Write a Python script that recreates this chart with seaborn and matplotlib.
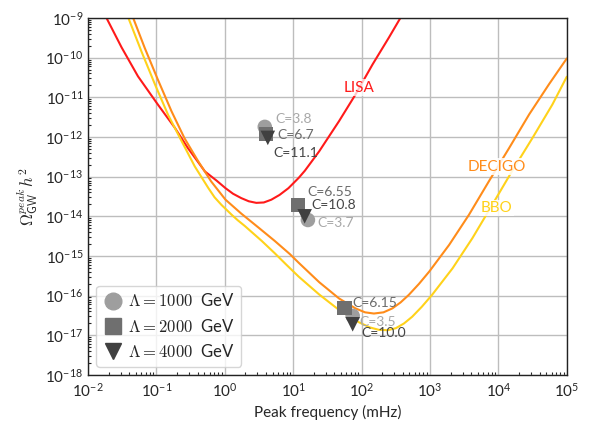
import numpy as np
import pandas as pd
import matplotlib
matplotlib.use("Agg")
import matplotlib.pyplot as plt
import seaborn as sns

# ---- data (log10 of frequency in mHz, log10 of Omega h^2) ----
lisa_logf = [-1.73, -1.51, -1.27, -0.98, -0.73, -0.54, -0.29, -0.12, 0.01, 0.12, 0.24, 0.35, 0.46,
             0.57, 0.68, 0.80, 0.93, 1.08, 1.17, 1.38, 1.67, 1.91, 2.16, 2.40, 2.57]
lisa_logo = [-9.0, -9.74, -10.47, -11.18, -11.77, -12.28, -12.87, -13.10, -13.29, -13.43, -13.54, -13.62, -13.66,
             -13.65, -13.58, -13.46, -13.29, -13.03, -12.85, -12.36, -11.60, -10.93, -10.17, -9.49, -8.99]

decigo_logf = [-1.34, -1.17, -0.98, -0.78, -0.59, -0.39, -0.20, 0.01, 0.24, 0.49, 0.73, 0.95,
               1.08, 1.38, 1.67, 1.91, 2.05, 2.18, 2.32, 2.45, 2.57, 2.69, 2.84, 2.99, 3.28, 3.57, 3.86,
               4.16, 4.45, 4.74, 5.0]
decigo_logo = [-9.0, -9.76, -10.55, -11.35, -12.03, -12.61, -13.12, -13.58, -13.93, -14.28, -14.62, -14.95,
               -15.17, -15.66, -16.07, -16.32, -16.42, -16.45, -16.42, -16.32, -16.17, -15.98, -15.70, -15.39,
               -14.72, -13.96, -13.12, -12.27, -11.43, -10.67, -10.02]

bbo_logf = [-1.41, -1.22, -1.02, -0.83, -0.63, -0.44, -0.24, -0.15, -0.05, 0.10, 0.19, 0.29, 0.54, 0.73,
            0.90, 1.08, 1.38, 1.67, 1.96, 2.12, 2.25, 2.38, 2.50, 2.62, 2.74, 2.88, 3.03, 3.33, 3.62, 3.91,
            4.20, 4.50, 4.79, 5.0]
bbo_logo = [-9.0, -9.84, -10.68, -11.44, -12.11, -12.74, -13.29, -13.52, -13.71, -13.96, -14.10, -14.24,
            -14.62, -14.93, -15.22, -15.52, -15.97, -16.36, -16.67, -16.80, -16.86, -16.87, -16.82, -16.70, -16.53,
            -16.28, -15.98, -15.31, -14.55, -13.71, -12.86, -12.02, -11.18, -10.48]

lambda_labels = ["1000", "2000", "4000"]
# peak frequency (mHz) and Omega h^2 for each Lambda, three benchmark points each
pts_f = {
    "1000": [3.84, 16.4, 74.0],
    "2000": [4.0, 11.8, 56.5],
    "4000": [4.25, 14.7, 74.0],
}
pts_o = {
    "1000": [1.8e-12, 8.1e-15, 3.1e-17],
    "2000": [1.2e-12, 1.94e-14, 4.9e-17],
    "4000": [9.5e-13, 1.0e-14, 1.9e-17],
}
pts_c = {
    "1000": ["C=3.8", "C=3.7", "C=3.5"],
    "2000": ["C=6.7", "C=6.55", "C=6.15"],
    "4000": ["C=11.1", "C=10.8", "C=10.0"],
}

# ---- styling ----
sns.set_style("white")
plt.rcParams["font.family"] = ["Lato", "DejaVu Sans"]
plt.rcParams["mathtext.fontset"] = "cm"

fig = plt.figure(figsize=(5.91, 4.26), dpi=100)
ax = fig.add_axes([0.149, 0.1197, 0.81, 0.838])

curves = pd.concat([
    pd.DataFrame({"f": 10 ** np.array(lisa_logf), "o": 10 ** np.array(lisa_logo), "det": "LISA"}),
    pd.DataFrame({"f": 10 ** np.array(decigo_logf), "o": 10 ** np.array(decigo_logo), "det": "DECIGO"}),
    pd.DataFrame({"f": 10 ** np.array(bbo_logf), "o": 10 ** np.array(bbo_logo), "det": "BBO"}),
], ignore_index=True)
det_colors = {"LISA": "#ff1a1a", "DECIGO": "#ff8c1a", "BBO": "#ffd21a"}

ax.set_xscale("log")
ax.set_yscale("log")
sns.lineplot(data=curves, x="f", y="o", hue="det", palette=det_colors, sort=False,
             estimator=None, units="det", lw=1.5, legend=False, ax=ax)

mk = {"1000": "o", "2000": "s", "4000": "v"}
mc = {"1000": "#9e9e9e", "2000": "#6f6f6f", "4000": "#404040"}
tc = {"1000": "#a8a8a8", "2000": "#6a6a6a", "4000": "#454545"}
offsets = {
    "1000": [(11, 8), (9, -3), (7, -6)],
    "2000": [(11, -1), (9, 13), (8, 5)],
    "4000": [(6, -15), (7, 11), (9, -9)],
}
handles = []
for lab in lambda_labels:
    df = pd.DataFrame({"f": pts_f[lab], "o": pts_o[lab]})
    sns.scatterplot(data=df, x="f", y="o", marker=mk[lab], color=mc[lab], s=110,
                    edgecolor="none", ax=ax, zorder=3)
    handles.append(plt.Line2D([], [], ls="none", marker=mk[lab], color=mc[lab], ms=12,
                              label=r"$\Lambda = %s$  GeV" % lab))
    for f, o, c, off in zip(pts_f[lab], pts_o[lab], pts_c[lab], offsets[lab]):
        ax.annotate(c, (f, o), xytext=off, textcoords="offset pixels", fontsize=10,
                    color=tc[lab], va="center", ha="left", zorder=4)

ax.text(10 ** 1.97, 10 ** -10.76, "LISA", color="#ff1a1a", fontsize=11, ha="center", va="center",
        bbox=dict(fc="white", ec="none", pad=1, alpha=0.75), zorder=5)
ax.text(10 ** 3.97, 10 ** -12.75, "DECIGO", color="#ff8c1a", fontsize=11, ha="center", va="center",
        bbox=dict(fc="white", ec="none", pad=1, alpha=0.85), zorder=5)
ax.text(10 ** 3.97, 10 ** -13.79, "BBO", color="#ffd21a", fontsize=11, ha="center", va="center",
        bbox=dict(fc="white", ec="none", pad=1, alpha=0.85), zorder=5)

ax.set_xlim(1e-2, 1e5)
ax.set_ylim(1e-18, 1e-9)
ax.set_xticks([10.0 ** k for k in range(-2, 6)])
ax.set_yticks([10.0 ** k for k in range(-18, -8)])
ax.grid(True, which="major", color="#bdbdbd", lw=1)
ax.tick_params(which="both", direction="in", top=False, right=False, labelsize=11)
ax.tick_params(axis="x", which="major", pad=5)
ax.tick_params(which="major", length=5, width=1)
ax.tick_params(which="minor", length=2.5, width=0.8, left=True, bottom=True)
ax.xaxis.set_minor_locator(matplotlib.ticker.LogLocator(base=10, subs=np.arange(2, 10), numticks=20))
ax.yaxis.set_minor_locator(matplotlib.ticker.LogLocator(base=10, subs=np.arange(2, 10), numticks=20))
ax.xaxis.set_minor_formatter(matplotlib.ticker.NullFormatter())
ax.yaxis.set_minor_formatter(matplotlib.ticker.NullFormatter())
for sp in ax.spines.values():
    sp.set_color("#222222")
    sp.set_linewidth(1)

ax.set_xlabel("Peak frequency (mHz)", fontsize=11)
ax.set_ylabel(r"$\Omega^{peak}_{\mathsf{GW}}\,h^2$", fontsize=12)

ax.legend(handles=handles, loc="lower left", fontsize=12, frameon=True, framealpha=0.8,
          handletextpad=0.3, borderpad=0.4, labelspacing=0.5, handlelength=1.2,
          borderaxespad=0.5)

fig.savefig("out.png", dpi=100)
